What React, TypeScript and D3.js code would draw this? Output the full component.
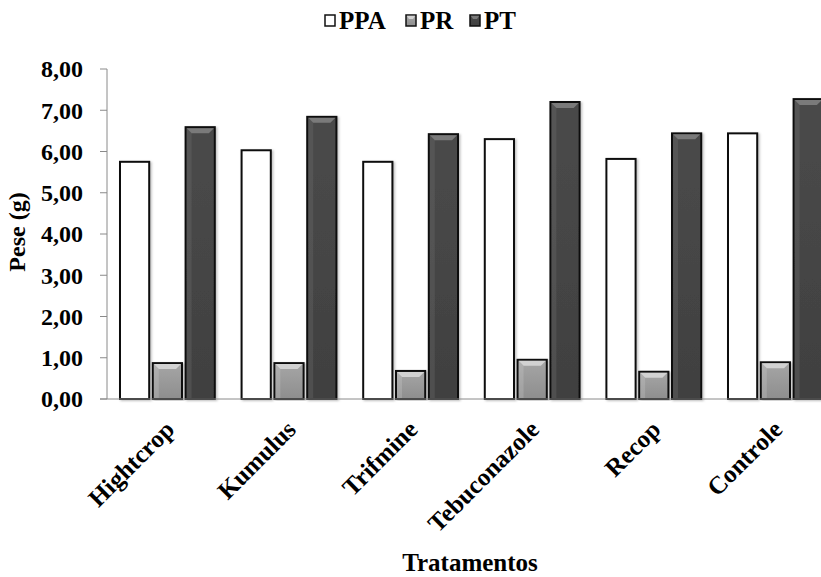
import React from "react";
import * as d3 from "d3";

const categories = ["Hightcrop", "Kumulus", "Trifmine", "Tebuconazole", "Recop", "Controle"];
const seriesNames = ["PPA", "PR", "PT"];
const ppa = [5.75, 6.03, 5.75, 6.3, 5.82, 6.44];
const pr = [0.87, 0.87, 0.68, 0.95, 0.66, 0.89];
const pt = [6.59, 6.84, 6.42, 7.2, 6.44, 7.27];
const yTicks = [0, 1, 2, 3, 4, 5, 6, 7, 8];

const W = 821;
const H = 577;
const FONT = "'Liberation Serif', 'Times New Roman', serif";

const fills = ["#ffffff", "url(#grad-pr)", "url(#grad-pt)"];
const bevels = [null, "#d2d2d2", "#7a7a7a"];

export default function App() {
  const x0 = 107;
  const groupStep = 121.6;
  const x = d3
    .scaleBand<string>()
    .domain(categories)
    .range([x0, x0 + groupStep * categories.length])
    .paddingInner(0)
    .paddingOuter(0);
  const inner = d3.scaleBand<string>().domain(seriesNames).range([13, 13 + 31.6 * 3]).paddingInner(0.11).paddingOuter(0);
  const y = d3.scaleLinear().domain([0, 8]).range([399, 69]);
  const values = [ppa, pr, pt];
  const fmt = (v: number) => v.toFixed(2).replace(".", ",");
  const bw = inner.bandwidth();

  const legendItems = [
    { name: "PPA", sq: 325, tx: 339 },
    { name: "PR", sq: 406, tx: 420 },
    { name: "PT", sq: 470, tx: 484 },
  ];

  return (
    <svg width={W} height={H} style={{ position: "absolute", left: 0, top: 0, background: "#fff" }} fontFamily={FONT}>
      <defs>
        <linearGradient id="grad-pr" x1="0" y1="0" x2="0" y2="1">
          <stop offset="0" stopColor="#a6a6a6" />
          <stop offset="1" stopColor="#8e8e8e" />
        </linearGradient>
        <linearGradient id="grad-pt" x1="0" y1="0" x2="0" y2="1">
          <stop offset="0" stopColor="#4a4a4a" />
          <stop offset="1" stopColor="#404040" />
        </linearGradient>
        <filter id="shadow" x="-20%" y="-5%" width="140%" height="110%">
          <feDropShadow dx="1.5" dy="1" stdDeviation="1.2" floodColor="#000" floodOpacity="0.25" />
        </filter>
      </defs>

      {/* legend */}
      {legendItems.map((it, i) => (
        <g key={it.name}>
          <rect x={it.sq} y={15} width={10} height={11} fill={fills[i]} stroke="#111" strokeWidth={1.5} />
          {bevels[i] && (
            <path d={`M${it.sq + 0.8},${15.8} L${it.sq + 9.2},${15.8} L${it.sq + 7},${19} L${it.sq + 3},${19} Z`} fill={bevels[i]!} />
          )}
          <text x={it.tx} y={28.5} fontSize={25} fontWeight="bold" fill="#000">
            {it.name}
          </text>
        </g>
      ))}

      {/* y axis */}
      <line x1={x0} x2={x0} y1={y(8)} y2={y(0)} stroke="#8a8a8a" strokeWidth={1} />
      {yTicks.map((t) => (
        <g key={t}>
          <line x1={x0 - 7} x2={x0} y1={y(t)} y2={y(t)} stroke="#8a8a8a" strokeWidth={1} />
          <text x={83} y={y(t)} dy="0.35em" textAnchor="end" fontSize={24} fontWeight="bold" fill="#000">
            {fmt(t)}
          </text>
        </g>
      ))}
      <text
        transform={`translate(25,232) rotate(-90)`}
        textAnchor="middle"
        fontSize={24}
        fontWeight="bold"
        fill="#000"
      >
        Pese (g)
      </text>

      {/* bars */}
      {categories.map((c, ci) => (
        <g key={c} transform={`translate(${x(c)},0)`}>
          {seriesNames.map((s, si) => {
            const v = values[si][ci];
            const bx = inner(s)!;
            const top = y(v);
            const h = y(0) - top;
            return (
              <g key={s}>
                <rect x={bx} y={top} width={bw} height={h} fill={fills[si]} stroke="#111" strokeWidth={2} filter="url(#shadow)" />
                {bevels[si] && (
                  <path
                    d={`M${bx + 1},${top + 1} L${bx + bw - 1},${top + 1} L${bx + bw - 6},${top + 6} L${bx + 6},${top + 6} Z`}
                    fill={bevels[si]!}
                  />
                )}
                {bevels[si] && h > 12 && (
                  <path
                    d={`M${bx + 1},${top + 1} L${bx + 6},${top + 6} L${bx + 6},${y(0) - 1} L${bx + 1},${y(0) - 1} Z`}
                    fill={bevels[si]!}
                    opacity={0.25}
                  />
                )}
              </g>
            );
          })}
        </g>
      ))}

      {/* x baseline */}
      <line x1={x0 - 7} x2={W} y1={y(0)} y2={y(0)} stroke="#8a8a8a" strokeWidth={1} />

      {/* category labels */}
      {categories.map((c) => {
        const cx = x(c)! + groupStep / 2 + 8;
        return (
          <text
            key={c}
            transform={`translate(${cx},431) rotate(-45)`}
            textAnchor="end"
            fontSize={25}
            fontWeight="bold"
            fill="#000"
          >
            {c}
          </text>
        );
      })}

      <text x={470} y={571} textAnchor="middle" fontSize={25} fontWeight="bold" fill="#000">
        Tratamentos
      </text>
    </svg>
  );
}
